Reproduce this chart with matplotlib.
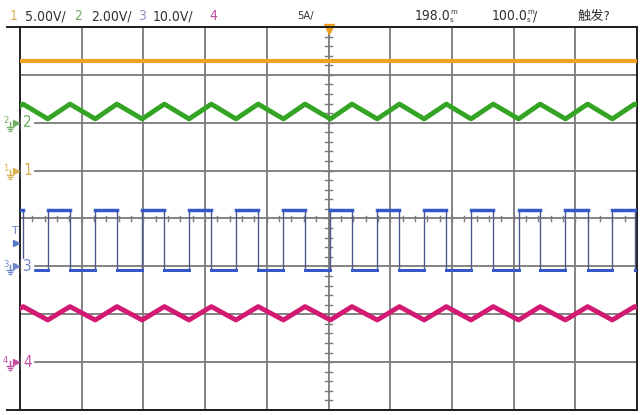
import matplotlib.pyplot as plt
from matplotlib.lines import Line2D

# scope settings: units per division and ground marker position (div from bottom)
ch_scale = {1: 5.0, 2: 2.0, 3: 10.0, 4: 5.0}
ch_ground = {1: 5.0, 2: 6.0, 3: 3.0, 4: 1.0}
ch_color = {1: '#f0a020', 2: '#34a424', 3: '#3558c8', 4: '#d21a72'}
ch_label_color = {1: '#d8b050', 2: '#70b060', 3: '#9090c0', 4: '#c050a0'}
us_per_div = 100.0

# ch3 switch node edges (us)
rise_us = [45, 122, 198, 274, 350, 427, 503, 579, 655, 731, 808, 884, 960]
fall_us = [5, 81, 157, 234, 310, 386, 462, 538, 615, 691, 767, 843, 920, 996]
ch3_high = 11.8
ch3_low = -0.8

# ch1 input voltage (V)
ch1_t = [0, 1000]
ch1_v = [11.5, 11.5]

# ch2 output ripple (V) and ch4 inductor current (A): peak at fall, trough at rise
ch2_peak, ch2_trough = 0.78, 0.16
ch2_start, ch2_end = 0.70, 0.74
ch4_peak, ch4_trough = 5.8, 4.4
ch4_start, ch4_end = 5.6, 5.7

W, H = 643, 415
fig = plt.figure(figsize=(W / 100, H / 100), dpi=100)
ax = fig.add_axes([20 / W, 5 / H, 617 / W, 383 / H])
ax.set_xlim(0, 10)
ax.set_ylim(0, 8)
ax.set_xticks([])
ax.set_yticks([])
for s in ax.spines.values():
    s.set_color('#202020')
    s.set_linewidth(1.4)

# grid
grid_c = '#7a7a7a'
for i in range(1, 10):
    ax.axvline(i, color=grid_c, lw=1.3, zorder=1)
for j in range(1, 8):
    ax.axhline(j, color=grid_c, lw=1.3, zorder=1)
# minor ticks on center lines
for k in range(1, 50):
    x = k * 0.2
    ax.plot([x, x], [4 - 0.06, 4 + 0.06], color=grid_c, lw=1, zorder=1)
for k in range(1, 40):
    y = k * 0.2
    ax.plot([5 - 0.05, 5 + 0.05], [y, y], color=grid_c, lw=1, zorder=1)


def to_y(ch, v):
    return ch_ground[ch] + v / ch_scale[ch]


def tri_wave(peak, trough, start, end):
    pts = [(t, peak) for t in fall_us] + [(t, trough) for t in rise_us]
    pts.sort()
    pts = [(0, start)] + pts + [(1000, end)]
    return [p[0] for p in pts], [p[1] for p in pts]


# ch1
ax.plot([t / us_per_div for t in ch1_t], [to_y(1, v) for v in ch1_v],
        color=ch_color[1], lw=3, zorder=3)

# ch2
t2, v2 = tri_wave(ch2_peak, ch2_trough, ch2_start, ch2_end)
ax.plot([t / us_per_div for t in t2], [to_y(2, v) for v in v2],
        color=ch_color[2], lw=3.5, zorder=3)

# ch3 square wave
hi = to_y(3, ch3_high)
lo = to_y(3, ch3_low)
for t in rise_us + fall_us:
    ax.plot([t / us_per_div] * 2, [lo, hi], color='#50588a', lw=1, zorder=3)
highs = [(0, fall_us[0])] + [(r, f) for r, f in zip(rise_us, fall_us[1:])]
lows = [(f, r) for f, r in zip(fall_us, rise_us)] + [(fall_us[-1], 1000)]
for a, b in highs:
    ax.plot([a / us_per_div, b / us_per_div], [hi, hi], color=ch_color[3], lw=2.5, zorder=4)
for a, b in lows:
    ax.plot([a / us_per_div, b / us_per_div], [lo, lo], color=ch_color[3], lw=2.2, zorder=4)

# ch4
t4, v4 = tri_wave(ch4_peak, ch4_trough, ch4_start, ch4_end)
ax.plot([t / us_per_div for t in t4], [to_y(4, v) for v in v4],
        color=ch_color[4], lw=3.5, zorder=3)

# trigger marker
ax.plot([5], [7.95], marker='v', color='#f0a020', ms=7, clip_on=False, zorder=6)

# frame lines extending to the left
fig.add_artist(Line2D([7 / W, 637 / W], [1 - 27 / H, 1 - 27 / H], color='#202020', lw=1.4))
fig.add_artist(Line2D([7 / W, 637 / W], [5 / H, 5 / H], color='#202020', lw=1.4))

# header
fnt = ['DejaVu Sans', 'Liberation Sans']
cjk = ['Noto Sans CJK SC', 'DejaVu Sans']
hy = 1 - 16 / H
txt_c = '#303030'
hk = dict(fontsize=10, family=fnt, stretch='condensed', va='center')
head = [(10, '1', ch_label_color[1]), (25, '5.00V/', txt_c),
        (74, '2', ch_label_color[2]), (91, '2.00V/', txt_c),
        (138, '3', ch_label_color[3]), (153, '10.0V/', txt_c),
        (209, '4', ch_label_color[4]), (415, '198.0', txt_c),
        (492, '100.0', txt_c)]
for x, s, c in head:
    t = fig.text(x / W, hy, s, color=c, **hk)
fig.text(297 / W, hy, '5A/', color=txt_c, fontsize=8, family=fnt, stretch='condensed', va='center')
for x in (450, 527):
    fig.text(x / W, hy + 3.5 / H, 'm', color=txt_c, fontsize=5, family=fnt, va='center')
    fig.text(x / W, hy - 3.5 / H, 's', color=txt_c, fontsize=5, family=fnt, va='center')
fig.text(533 / W, hy, '/', color=txt_c, **hk)
fig.text(578 / W, hy, '触发?', color=txt_c, fontsize=9.5, family=cjk, va='center')

# channel ground markers on the left
for ch in (1, 2, 3, 4):
    ypx = 410 - ch_ground[ch] * 383 / 8
    c = ch_label_color[ch] if ch != 3 else '#7088c8'
    yf = 1 - ypx / H
    # white gap over the grid line
    fig.add_artist(plt.Rectangle((21 / W, yf - 7 / H), 12 / W, 14 / H,
                                 color='white', zorder=5))
    fig.text(3 / W, yf + 2 / H, str(ch), color=c, fontsize=6, family=fnt, va='center', zorder=6)
    fig.add_artist(Line2D([10 / W, 10 / W], [yf + 1 / H, yf - 4 / H], color=c, lw=1, zorder=6))
    for k, w in enumerate((6, 4, 2)):
        fig.add_artist(Line2D([(10 - w / 2) / W, (10 + w / 2) / W],
                              [yf - (4 + 2 * k) / H] * 2, color=c, lw=1, zorder=6))
    fig.add_artist(Line2D([16 / W], [yf], marker='>', color=c, ms=5, lw=0, zorder=6))
    fig.text(23 / W, yf, str(ch), color=c, fontsize=11, family=fnt, stretch='condensed',
             va='center', zorder=6)

# trigger level marker
fig.text(12 / W, 1 - 231 / H, 'T', color='#7088c8', fontsize=8, family=fnt, va='center')
fig.add_artist(Line2D([16 / W], [1 - 243 / H], marker='>', color='#5a78c8', ms=5, lw=0))

fig.savefig('out.png', dpi=100)
